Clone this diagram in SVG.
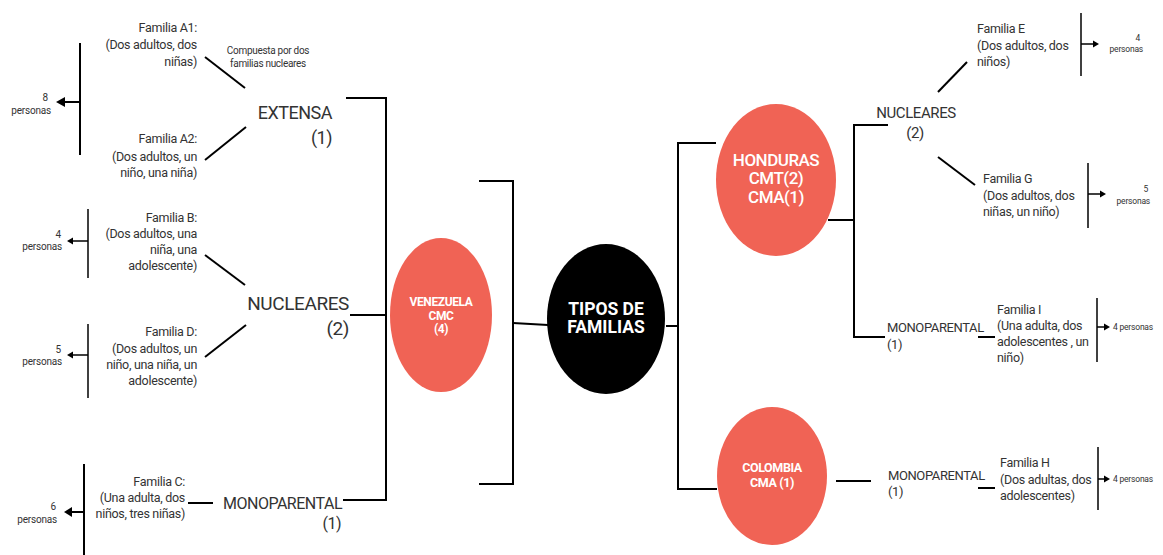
<svg xmlns="http://www.w3.org/2000/svg" width="1163" height="555" viewBox="0 0 1163 555">
<defs>
<style>
.t{font-family:Roboto,"Liberation Sans",sans-serif;fill:#333;}
.fam{font-size:12.5px;letter-spacing:-0.3px;}
.cat{font-size:18px;letter-spacing:-0.5px;}
.sm{font-size:10px;letter-spacing:-0.2px;}
.xs{font-size:8.5px;letter-spacing:-0.2px;}
.w{font-family:Roboto,"Liberation Sans",sans-serif;fill:#fff;text-anchor:middle;}
.ln{stroke:#000;stroke-width:2;fill:none;}
.lt{stroke:#000;stroke-width:1.5;fill:none;}
.ah{fill:#000;}
.red{fill:#F06355;}
</style>
</defs>
<rect width="1163" height="555" fill="#fff"/>

<g id="connectors">
<!-- left -->
<line class="ln" x1="80" y1="43" x2="80" y2="155"/>
<line class="ln" x1="80" y1="102" x2="63" y2="102"/>
<polygon class="ah" points="56,102 65,97 65,107"/>
<line class="ln" x1="205" y1="57" x2="245" y2="88"/>
<line class="ln" x1="205" y1="160" x2="246" y2="127"/>
<line class="lt" x1="88" y1="209" x2="88" y2="278"/>
<line class="lt" x1="88" y1="241" x2="72" y2="241"/>
<polygon class="ah" points="67,241 73,237.5 73,244.5"/>
<line class="ln" x1="205" y1="255" x2="245" y2="285"/>
<line class="ln" x1="205" y1="357" x2="246" y2="325"/>
<line class="lt" x1="88" y1="324" x2="88" y2="398"/>
<line class="lt" x1="88" y1="355" x2="72" y2="355"/>
<polygon class="ah" points="67,355 73,351.5 73,358.5"/>
<line class="ln" x1="84" y1="464" x2="84" y2="555"/>
<line class="ln" x1="84" y1="512" x2="70" y2="512"/>
<polygon class="ah" points="64,512 72,507 72,517"/>
<line class="ln" x1="188" y1="503" x2="213" y2="503"/>
<polyline class="ln" points="346,98 386,98 386,500 343,500"/>
<line class="ln" x1="350" y1="315" x2="386" y2="315"/>
<!-- center -->
<polyline class="ln" points="479,181 513,181 513,484 479,484"/>
<line class="ln" x1="513" y1="323" x2="548" y2="325"/>
<line class="ln" x1="666" y1="326" x2="678" y2="326"/>
<polyline class="ln" points="716,143 678,143 678,489 717,489"/>
<!-- right -->
<line class="ln" x1="828" y1="220" x2="855" y2="220"/>
<polyline class="ln" points="888,125 854,125 854,337 885,337"/>
<line class="ln" x1="938" y1="92" x2="967" y2="62"/>
<line class="ln" x1="938" y1="157" x2="975" y2="185"/>
<line class="lt" x1="1081" y1="13" x2="1081" y2="76"/>
<line class="lt" x1="1081" y1="44" x2="1094" y2="44"/>
<polygon class="ah" points="1099,44 1093,40.5 1093,47.5"/>
<line class="lt" x1="1088" y1="163" x2="1088" y2="228"/>
<line class="lt" x1="1088" y1="194" x2="1101" y2="194"/>
<polygon class="ah" points="1106,194 1100,190.5 1100,197.5"/>
<line class="ln" x1="978" y1="337" x2="995" y2="337"/>
<line class="lt" x1="1097" y1="298" x2="1097" y2="362"/>
<line class="lt" x1="1097" y1="327" x2="1105" y2="327"/>
<polygon class="ah" points="1110,327 1104,323.5 1104,330.5"/>
<line class="ln" x1="836" y1="481" x2="871" y2="481"/>
<line class="ln" x1="978" y1="488" x2="995" y2="488"/>
<line class="lt" x1="1098" y1="447" x2="1098" y2="510"/>
<line class="lt" x1="1098" y1="479" x2="1105" y2="479"/>
<polygon class="ah" points="1110,479 1104,475.5 1104,482.5"/>
</g>

<g id="tipos">
<ellipse cx="606" cy="319" rx="59" ry="75" fill="#000"/>
<text class="w" font-size="17.5" font-weight="bold"><tspan x="606" y="315">TIPOS DE</tspan><tspan x="606" y="333">FAMILIAS</tspan></text>
</g>

<g id="venezuela">
<ellipse class="red" cx="441" cy="315" rx="51" ry="77"/>
<text class="w" font-size="12" font-weight="bold" letter-spacing="-0.4"><tspan x="441" y="306">VENEZUELA</tspan><tspan x="441" y="320">CMC</tspan><tspan x="441" y="333">(4)</tspan></text>
</g>

<g id="honduras">
<ellipse class="red" cx="776" cy="180" rx="60" ry="76"/>
<text class="w" font-size="17" font-weight="500" letter-spacing="-0.5"><tspan x="776" y="166">HONDURAS</tspan><tspan x="776" y="184">CMT(2)</tspan><tspan x="776" y="203">CMA(1)</tspan></text>
</g>

<g id="colombia">
<ellipse class="red" cx="772" cy="476" rx="55" ry="69"/>
<text class="w" font-size="12.5" font-weight="bold" letter-spacing="-0.4"><tspan x="772" y="472">COLOMBIA</tspan><tspan x="772" y="487">CMA (1)</tspan></text>
</g>

<g id="extensa">
<text class="t cat" text-anchor="end"><tspan x="332" y="119">EXTENSA</tspan><tspan x="332" y="144">(1)</tspan></text>
<text class="t" font-size="10" letter-spacing="-0.3" text-anchor="middle"><tspan x="268" y="54">Compuesta por dos</tspan><tspan x="268" y="67">familias  nucleares</tspan></text>
</g>

<g id="familia-a1">
<text class="t fam" text-anchor="end"><tspan x="197" y="32">Familia A1:</tspan><tspan x="197" y="49">(Dos adultos, dos</tspan><tspan x="197" y="66">niñas)</tspan></text>
</g>
<g id="familia-a2">
<text class="t fam" text-anchor="end"><tspan x="197" y="143">Familia A2:</tspan><tspan x="197" y="161">(Dos adultos, un</tspan><tspan x="197" y="177">niño, una niña)</tspan></text>
</g>
<g id="total-a">
<text class="t sm" text-anchor="end"><tspan x="48" y="101">8</tspan><tspan x="51" y="114">personas</tspan></text>
</g>

<g id="nucleares-left">
<text class="t" font-size="19" letter-spacing="-0.4" text-anchor="end"><tspan x="349" y="310">NUCLEARES</tspan><tspan x="349" y="335">(2)</tspan></text>
</g>
<g id="familia-b">
<text class="t fam" text-anchor="end"><tspan x="197" y="222">Familia B:</tspan><tspan x="197" y="238">(Dos adultos, una</tspan><tspan x="197" y="254">niña, una</tspan><tspan x="197" y="270">adolescente)</tspan></text>
</g>
<g id="total-b">
<text class="t sm" text-anchor="end"><tspan x="61" y="238">4</tspan><tspan x="62" y="250">personas</tspan></text>
</g>
<g id="familia-d">
<text class="t fam" text-anchor="end"><tspan x="197" y="336">Familia D:</tspan><tspan x="197" y="353">(Dos adultos, un</tspan><tspan x="197" y="369">niño, una niña, un</tspan><tspan x="197" y="385">adolescente)</tspan></text>
</g>
<g id="total-d">
<text class="t sm" text-anchor="end"><tspan x="61" y="353">5</tspan><tspan x="62" y="365">personas</tspan></text>
</g>

<g id="monoparental-left">
<text class="t" font-size="16" letter-spacing="-0.5" text-anchor="end"><tspan x="342" y="509">MONOPARENTAL</tspan><tspan x="341" y="529">(1)</tspan></text>
</g>
<g id="familia-c">
<text class="t fam" text-anchor="end"><tspan x="185" y="486">Familia C:</tspan><tspan x="185" y="502">(Una adulta, dos</tspan><tspan x="185" y="518">niños, tres niñas)</tspan></text>
</g>
<g id="total-c">
<text class="t sm" text-anchor="end"><tspan x="56" y="510">6</tspan><tspan x="57" y="523">personas</tspan></text>
</g>

<g id="nucleares-right">
<text class="t" font-size="15" letter-spacing="-0.4" text-anchor="middle"><tspan x="916" y="118">NUCLEARES</tspan><tspan x="915" y="138">(2)</tspan></text>
</g>
<g id="familia-e">
<text class="t fam"><tspan x="977" y="33">Familia E</tspan><tspan x="977" y="50">(Dos adultos, dos</tspan><tspan x="977" y="66">niños)</tspan></text>
</g>
<g id="total-e">
<text class="t xs" text-anchor="end"><tspan x="1140" y="41">4</tspan><tspan x="1143" y="52">personas</tspan></text>
</g>
<g id="familia-g">
<text class="t fam"><tspan x="983" y="183">Familia G</tspan><tspan x="983" y="200">(Dos adultos, dos</tspan><tspan x="983" y="216">niñas, un niño)</tspan></text>
</g>
<g id="total-g">
<text class="t xs" text-anchor="end"><tspan x="1148" y="192">5</tspan><tspan x="1150" y="204">personas</tspan></text>
</g>

<g id="monoparental-honduras">
<text class="t" font-size="13" letter-spacing="-0.4"><tspan x="887" y="332">MONOPARENTAL</tspan><tspan x="887" y="349">(1)</tspan></text>
</g>
<g id="familia-i">
<text class="t fam"><tspan x="997" y="314">Familia I</tspan><tspan x="997" y="330">(Una adulta, dos</tspan><tspan x="997" y="346">adolescentes , un</tspan><tspan x="997" y="362">niño)</tspan></text>
</g>
<g id="total-i">
<text class="t xs" x="1113" y="330">4 personas</text>
</g>

<g id="monoparental-colombia">
<text class="t" font-size="13" letter-spacing="-0.4"><tspan x="888" y="480">MONOPARENTAL</tspan><tspan x="888" y="496">(1)</tspan></text>
</g>
<g id="familia-h">
<text class="t fam"><tspan x="1000" y="467">Familia H</tspan><tspan x="1000" y="484">(Dos adultas, dos</tspan><tspan x="1000" y="500">adolescentes)</tspan></text>
</g>
<g id="total-h">
<text class="t xs" x="1113" y="482">4 personas</text>
</g>
</svg>
